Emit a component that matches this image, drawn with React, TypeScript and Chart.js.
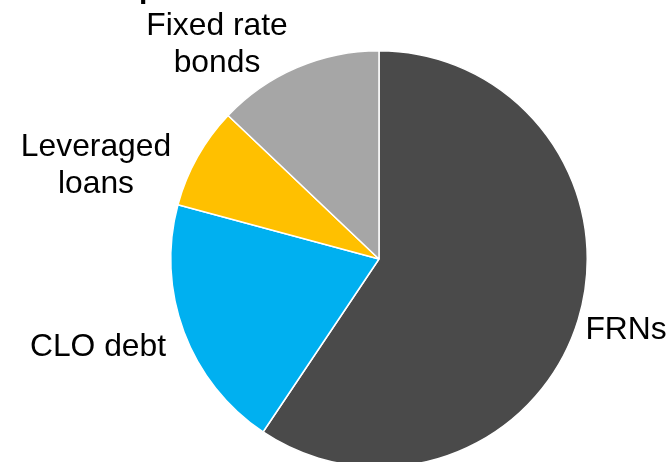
import React, { useEffect, useRef } from "react";
import { Chart, registerables } from "chart.js";

Chart.register(...registerables);

const categories = ["FRNs", "CLO debt", "Leveraged loans", "Fixed rate bonds"];
const values = [59.4, 19.8, 7.9, 12.9];
const colors = ["#4a4a4a", "#00b0f0", "#ffc000", "#a6a6a6"];
const labelLines = [["FRNs"], ["CLO debt"], ["Leveraged", "loans"], ["Fixed rate", "bonds"]];
const labelPos = [
  { x: 626, y: 339 },
  { x: 98, y: 356 },
  { x: 96, y: 156 },
  { x: 217, y: 35 },
];

const labelPlugin = {
  id: "outerLabels",
  afterDraw(chart: any) {
    const ctx = chart.ctx;
    ctx.save();
    ctx.fillStyle = "#000000";
    ctx.font = "31.8px 'Liberation Sans', Arial, sans-serif";
    ctx.textAlign = "center";
    ctx.textBaseline = "alphabetic";
    labelLines.forEach((lines, i) => {
      lines.forEach((ln, j) => {
        ctx.fillText(ln, labelPos[i].x, labelPos[i].y + j * 37);
      });
    });
    // clipped title fragment at the very top
    ctx.font = "bold 30px 'Liberation Sans', Arial, sans-serif";
    ctx.textAlign = "left";
    ctx.fillText("p", 139, -2);
    ctx.restore();
  },
};

export default function App() {
  const ref = useRef<HTMLCanvasElement>(null);
  useEffect(() => {
    document.body.style.margin = "0";
    document.body.style.overflow = "hidden";
    const chart = new Chart(ref.current!, {
      type: "pie",
      data: {
        labels: categories,
        datasets: [
          {
            data: values,
            backgroundColor: colors,
            borderColor: "#ffffff",
            borderWidth: 1.5,
          },
        ],
      },
      options: {
        animation: false,
        responsive: false,
        layout: { padding: { top: 50, bottom: 12, left: 170, right: 82 } },
        plugins: {
          legend: { display: false },
          tooltip: { enabled: false },
          title: { display: false },
        },
      },
      plugins: [labelPlugin],
    });
    return () => chart.destroy();
  }, []);
  return (
    <div style={{ position: "absolute", left: 0, top: 0, width: 670, height: 462, overflow: "hidden", background: "#fff" }}>
      <canvas ref={ref} width={670} height={480} style={{ display: "block" }} />
    </div>
  );
}
